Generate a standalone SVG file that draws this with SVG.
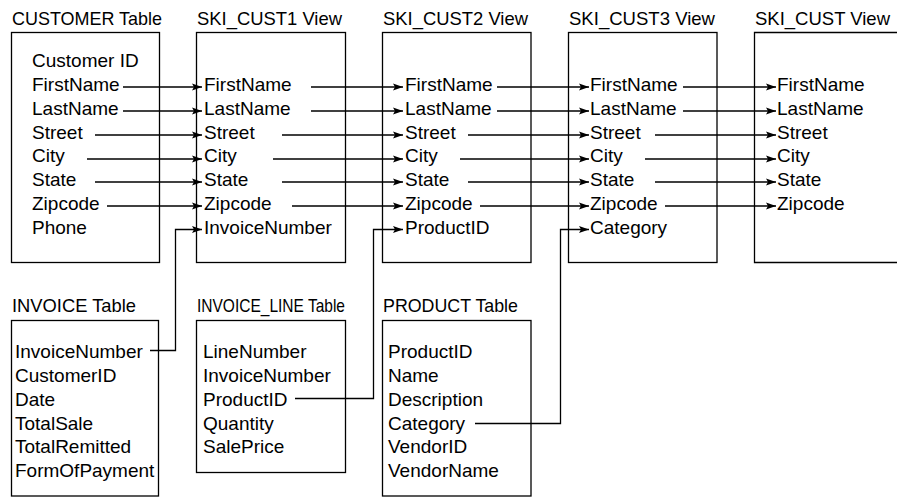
<svg xmlns="http://www.w3.org/2000/svg" width="897" height="497" viewBox="0 0 897 497">
<defs>
<style>
.bg{fill:#fff}
.box{fill:none;stroke:#000;stroke-width:1.3}
.t{font-family:"Liberation Sans",Arial,sans-serif;font-size:19px;fill:#000}
.f{font-family:"Liberation Sans",Arial,sans-serif;font-size:19px;fill:#000}
.c path{fill:none;stroke:#000;stroke-width:1.3;marker-end:url(#ah)}
</style>
<marker id="ah" markerUnits="userSpaceOnUse" markerWidth="11" markerHeight="8" refX="10" refY="4" orient="auto">
<path d="M0,0.6 L10,4 L0,7.4 L2,4 Z" fill="#000"/>
</marker>
</defs>
<rect class="bg" width="897" height="497"/>
<g id="customer">
<text class="t" x="12" y="25" textLength="150" lengthAdjust="spacingAndGlyphs">CUSTOMER Table</text>
<rect class="box" x="11.5" y="32.5" width="148" height="230"/>
<text class="f" x="32" y="67">Customer ID</text>
<text class="f" x="32" y="91">FirstName</text>
<text class="f" x="32" y="115">LastName</text>
<text class="f" x="32" y="139">Street</text>
<text class="f" x="32" y="162">City</text>
<text class="f" x="32" y="186">State</text>
<text class="f" x="32" y="210">Zipcode</text>
<text class="f" x="32" y="234">Phone</text>
</g>
<g id="ski_cust1">
<text class="t" x="197" y="25" textLength="145" lengthAdjust="spacingAndGlyphs">SKI_CUST1 View</text>
<rect class="box" x="196.5" y="32.5" width="149" height="230"/>
<text class="f" x="204" y="91">FirstName</text>
<text class="f" x="204" y="115">LastName</text>
<text class="f" x="204" y="139">Street</text>
<text class="f" x="204" y="162">City</text>
<text class="f" x="204" y="186">State</text>
<text class="f" x="204" y="210">Zipcode</text>
<text class="f" x="204" y="234">InvoiceNumber</text>
</g>
<g id="ski_cust2">
<text class="t" x="383" y="25" textLength="145" lengthAdjust="spacingAndGlyphs">SKI_CUST2 View</text>
<rect class="box" x="382.5" y="32.5" width="148.5" height="230"/>
<text class="f" x="405" y="91">FirstName</text>
<text class="f" x="405" y="115">LastName</text>
<text class="f" x="405" y="139">Street</text>
<text class="f" x="405" y="162">City</text>
<text class="f" x="405" y="186">State</text>
<text class="f" x="405" y="210">Zipcode</text>
<text class="f" x="405" y="234">ProductID</text>
</g>
<g id="ski_cust3">
<text class="t" x="569" y="25" textLength="146" lengthAdjust="spacingAndGlyphs">SKI_CUST3 View</text>
<rect class="box" x="568.5" y="32.5" width="148.5" height="230"/>
<text class="f" x="590" y="91">FirstName</text>
<text class="f" x="590" y="115">LastName</text>
<text class="f" x="590" y="139">Street</text>
<text class="f" x="590" y="162">City</text>
<text class="f" x="590" y="186">State</text>
<text class="f" x="590" y="210">Zipcode</text>
<text class="f" x="590" y="234">Category</text>
</g>
<g id="ski_cust">
<text class="t" x="755" y="25" textLength="135" lengthAdjust="spacingAndGlyphs">SKI_CUST View</text>
<path class="box" d="M900,32.5 H754.5 V262.5 H900"/>
<text class="f" x="777" y="91">FirstName</text>
<text class="f" x="777" y="115">LastName</text>
<text class="f" x="777" y="139">Street</text>
<text class="f" x="777" y="162">City</text>
<text class="f" x="777" y="186">State</text>
<text class="f" x="777" y="210">Zipcode</text>
</g>
<g id="invoice">
<text class="t" x="12" y="312" textLength="124" lengthAdjust="spacingAndGlyphs">INVOICE Table</text>
<rect class="box" x="11.5" y="320.5" width="147" height="175.5"/>
<text class="f" x="15" y="358">InvoiceNumber</text>
<text class="f" x="15" y="382">CustomerID</text>
<text class="f" x="15" y="406">Date</text>
<text class="f" x="15" y="430">TotalSale</text>
<text class="f" x="15" y="453">TotalRemitted</text>
<text class="f" x="15" y="477">FormOfPayment</text>
</g>
<g id="invoice_line">
<text class="t" x="197" y="312" textLength="148" lengthAdjust="spacingAndGlyphs">INVOICE_LINE Table</text>
<rect class="box" x="196.5" y="320.5" width="149" height="152"/>
<text class="f" x="203" y="358">LineNumber</text>
<text class="f" x="203" y="382">InvoiceNumber</text>
<text class="f" x="203" y="406">ProductID</text>
<text class="f" x="203" y="430">Quantity</text>
<text class="f" x="203" y="453">SalePrice</text>
</g>
<g id="product">
<text class="t" x="383" y="312" textLength="135" lengthAdjust="spacingAndGlyphs">PRODUCT Table</text>
<rect class="box" x="382.5" y="320.5" width="148.5" height="175.5"/>
<text class="f" x="388" y="358">ProductID</text>
<text class="f" x="388" y="382">Name</text>
<text class="f" x="388" y="406">Description</text>
<text class="f" x="388" y="430">Category</text>
<text class="f" x="388" y="453">VendorID</text>
<text class="f" x="388" y="477">VendorName</text>
</g>
<g id="connectors" class="c">
<path d="M123,87 H202"/>
<path d="M123,111 H202"/>
<path d="M95,135 H202"/>
<path d="M87,159 H202"/>
<path d="M95,182 H202"/>
<path d="M107,206 H202"/>
<path d="M150,350.5 H175.5 V229.5 H202"/>
<path d="M311,87 H403"/>
<path d="M311,111 H403"/>
<path d="M282,135 H403"/>
<path d="M273,159 H403"/>
<path d="M282,182 H403"/>
<path d="M292,206 H403"/>
<path d="M295,398.5 H373.5 V229.5 H403"/>
<path d="M497,87 H589"/>
<path d="M497,111 H589"/>
<path d="M468,135 H589"/>
<path d="M460,159 H589"/>
<path d="M468,182 H589"/>
<path d="M480,206 H589"/>
<path d="M475,423.5 H560.5 V229.5 H589"/>
<path d="M683,87 H776"/>
<path d="M683,111 H776"/>
<path d="M655,135 H776"/>
<path d="M645,159 H776"/>
<path d="M655,182 H776"/>
<path d="M665,206 H776"/>
</g>
</svg>
